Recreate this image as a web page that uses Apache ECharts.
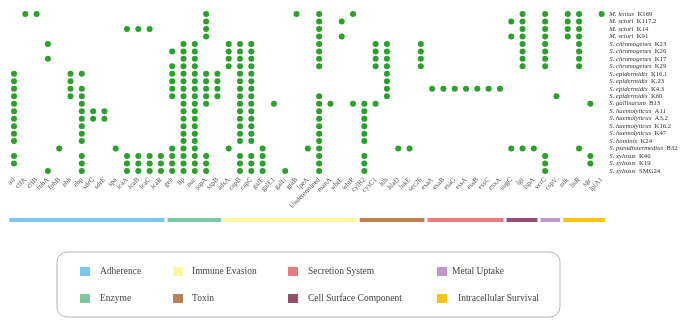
<!DOCTYPE html>
<html>
<head>
<meta charset="utf-8">
<script src="https://cdn.jsdelivr.net/npm/echarts@6/dist/echarts.min.js"></script>
<style>
  html, body { margin: 0; padding: 0; background: #fff; }
  #chart { width: 685px; height: 327px; }
</style>
</head>
<body>
<div id="chart"></div>
<script>
// genes on the x axis, in the order of the figure
const genes = ['atl', 'clfA', 'clfB', 'fnbA', 'fnbB', 'ebh', 'ebp', 'sdrC', 'sdrE', 'spa', 'icaA', 'icaB', 'icaC', 'icaR',
  'geh', 'lip', 'nuc', 'sspA', 'sspB',
  'adsA', 'capB', 'capC', 'galE', 'galE1', 'galU', 'gtaB', 'lpeA', 'Undetermined', 'manA', 'wbtE', 'wbtP',
  'cylR2', 'cysC1', 'hlb', 'hlaD', 'lukE', 'sec26',
  'esaA', 'esaB', 'esaG', 'essA', 'essB', 'essC', 'esxA',
  'sugC', 'lgt', 'lspA',
  'vctC', 'cspV',
  'ndk', 'lisR', 'sgc', 'lplA1'];

const strains = ['M. lentus K169', 'M. sciuri K117.2', 'M. sciuri K14', 'M. sciuri K91',
  'S. chromogenes K23', 'S. chromogenes K26', 'S. chromogenes K17', 'S. chromogenes K29',
  'S. epidermidis K16.1', 'S. epidermidis K.23', 'S. epidermidis K4.3', 'S. epidermidis K60',
  'S. gallinarum B13', 'S. haemolyticus A11', 'S. haemolyticus A3.2', 'S. haemolyticus K16.2',
  'S. haemolyticus K47', 'S. hominis K24', 'S. pseudintermedius B32', 'S. xylosus K46',
  'S. xylosus K19', 'S. xylosus SMG24'];

// for every gene: rows (strain index) where it was found
const hits = [
  [8, 9, 10, 11, 12, 13, 14, 15, 16, 17, 19, 20],
  [0],
  [0],
  [4, 6, 21],
  [18],
  [8, 9, 10, 11],
  [8, 10, 11, 12, 13, 14, 15, 16, 17, 19, 20, 21],
  [13, 14],
  [13, 14],
  [18],
  [2, 19, 20, 21],
  [2, 19, 20, 21],
  [2, 19, 20, 21],
  [19, 20, 21],
  [5, 7, 8, 9, 10, 11, 18, 19, 20, 21],
  [4, 5, 6, 7, 8, 9, 10, 11, 12, 13, 14, 15, 16, 17, 18, 19, 20, 21],
  [4, 5, 6, 7, 8, 9, 10, 11, 12, 13, 14, 15, 16, 17, 18, 19, 20, 21],
  [0, 1, 2, 3, 8, 9, 10, 11, 12, 19, 20, 21],
  [8, 9, 10, 11],
  [4, 5, 6, 7, 18],
  [4, 5, 6, 7, 8, 9, 10, 11, 12, 13, 14, 15, 16, 17, 19, 20, 21],
  [4, 5, 6, 7, 8, 9, 10, 11, 12, 13, 14, 15, 16, 17, 19, 20, 21],
  [18, 19, 20, 21],
  [12],
  [21],
  [0],
  [18],
  [0, 1, 2, 3, 4, 5, 6, 7, 11, 12, 13, 14, 15, 16, 17, 18, 19, 20, 21],
  [12],
  [1, 3],
  [0, 12],
  [12, 13, 14, 15, 16, 17, 19, 20, 21],
  [4, 5, 6, 7, 12],
  [4, 5, 6, 7, 8, 9, 10, 11],
  [18],
  [18],
  [4, 5, 6, 7],
  [10],
  [10],
  [10],
  [10],
  [10],
  [10],
  [10],
  [1, 3, 18],
  [0, 1, 2, 3, 4, 5, 6, 7, 18],
  [18],
  [0, 1, 2, 3, 4, 5, 6, 7, 19, 20, 21],
  [11],
  [0, 1, 2, 3],
  [0, 1, 2, 3, 4, 5, 6, 7, 18],
  [12, 19, 20],
  [0]
];

// gene groups (number of genes in each, left to right)
const groupNames = ['Adherence', 'Enzyme', 'Immune Evasion', 'Toxin', 'Secretion System',
  'Cell Surface Component', 'Metal Uptake', 'Intracellular Survival'];
const groupSizes = [14, 5, 12, 6, 7, 3, 2, 4];
const groupColors = ['#7dc6f0', '#80c7a0', '#fdf6a3', '#bb8159', '#e87b7b', '#92506e', '#c198c9', '#f7c40f'];

const serif = '"Liberation Serif", "DejaVu Serif", serif';
const dotColor = '#2ca02c';

const points = [];
hits.forEach((rows, g) => {
  rows.forEach(r => points.push([genes[g], strains[r]]));
});

let start = 0;
const groupSeries = groupNames.map((name, k) => {
  const s = start;
  start += groupSizes[k];
  return {
    name: name,
    type: 'custom',
    xAxisIndex: 1,
    yAxisIndex: 1,
    itemStyle: { color: groupColors[k] },
    encode: { x: [0, 1], y: 2 },
    data: [[s, start - 1, 1]],
    renderItem: function (params, api) {
      const a = api.coord([api.value(0), 1]);
      const b = api.coord([api.value(1), 0]);
      const w = api.size([1, 0])[0];
      return {
        type: 'rect',
        shape: { x: a[0] - w / 2 + 1, y: a[1], width: b[0] - a[0] + w - 3, height: b[1] - a[1] },
        style: api.style()
      };
    }
  };
});

function legendAt(left, items) {
  return {
    orient: 'vertical',
    left: left,
    top: 266.5,
    padding: 0,
    itemWidth: 10,
    itemHeight: 9,
    itemGap: 17,
    icon: 'rect',
    selectedMode: false,
    textStyle: { fontFamily: serif, fontSize: 9.5, color: '#444' },
    data: items
  };
}

const chart = echarts.init(document.getElementById('chart'), null, { renderer: 'canvas' });
chart.setOption({
  animation: false,
  grid: [
    { left: 8.35, right: 77.7, top: 10.26, height: 164.5 },
    { left: 8.35, right: 77.7, top: 218, height: 4 }
  ],
  xAxis: [
    {
      type: 'category',
      data: genes,
      gridIndex: 0,
      axisLine: { show: false },
      axisTick: { show: false },
      splitLine: { show: false },
      axisLabel: {
        interval: 0,
        rotate: 45,
        margin: 4,
        fontFamily: serif,
        fontSize: 7,
        color: '#555'
      }
    },
    {
      type: 'category',
      data: genes,
      gridIndex: 1,
      show: false
    }
  ],
  yAxis: [
    {
      type: 'category',
      data: strains,
      inverse: true,
      position: 'right',
      gridIndex: 0,
      axisLine: { show: false },
      axisTick: { show: false },
      splitLine: { show: false },
      axisLabel: {
        interval: 0,
        margin: 2,
        formatter: function (v) {
          const k = v.lastIndexOf(' ');
          return '{i|' + v.slice(0, k) + '} {n|' + v.slice(k + 1) + '}';
        },
        rich: {
          i: { fontFamily: serif, fontStyle: 'italic', fontSize: 6.7, color: '#333' },
          n: { fontFamily: serif, fontSize: 6.7, color: '#333' }
        }
      }
    },
    { type: 'value', gridIndex: 1, min: 0, max: 1, show: false }
  ],
  legend: [
    legendAt(80, [
      { name: 'Adherence', textStyle: { padding: [0, 0, 0, 5] } },
      { name: 'Enzyme', textStyle: { padding: [0, 0, 0, 5] } }
    ]),
    legendAt(173, [
      { name: 'Immune Evasion', textStyle: { padding: [0, 0, 0, 4] } },
      { name: 'Toxin', textStyle: { padding: [0, 0, 0, 4] } }
    ]),
    legendAt(288, [
      { name: 'Secretion System', textStyle: { padding: [0, 0, 0, 5] } },
      { name: 'Cell Surface Component', textStyle: { padding: [0, 0, 0, 5] } }
    ]),
    legendAt(437, [
      { name: 'Metal Uptake', textStyle: { padding: [0, 0, 0, 0] } },
      { name: 'Intracellular Survival', textStyle: { padding: [0, 0, 0, 6] } }
    ])
  ],
  graphic: [
    {
      type: 'rect',
      shape: { x: 57, y: 252, width: 503, height: 65, r: 10 },
      style: { fill: 'none', stroke: '#b5b5b5', lineWidth: 1 },
      silent: true
    }
  ],
  series: [
    {
      type: 'scatter',
      xAxisIndex: 0,
      yAxisIndex: 0,
      symbolSize: 6,
      itemStyle: { color: dotColor, opacity: 1 },
      data: points
    }
  ].concat(groupSeries)
});
</script>
</body>
</html>
